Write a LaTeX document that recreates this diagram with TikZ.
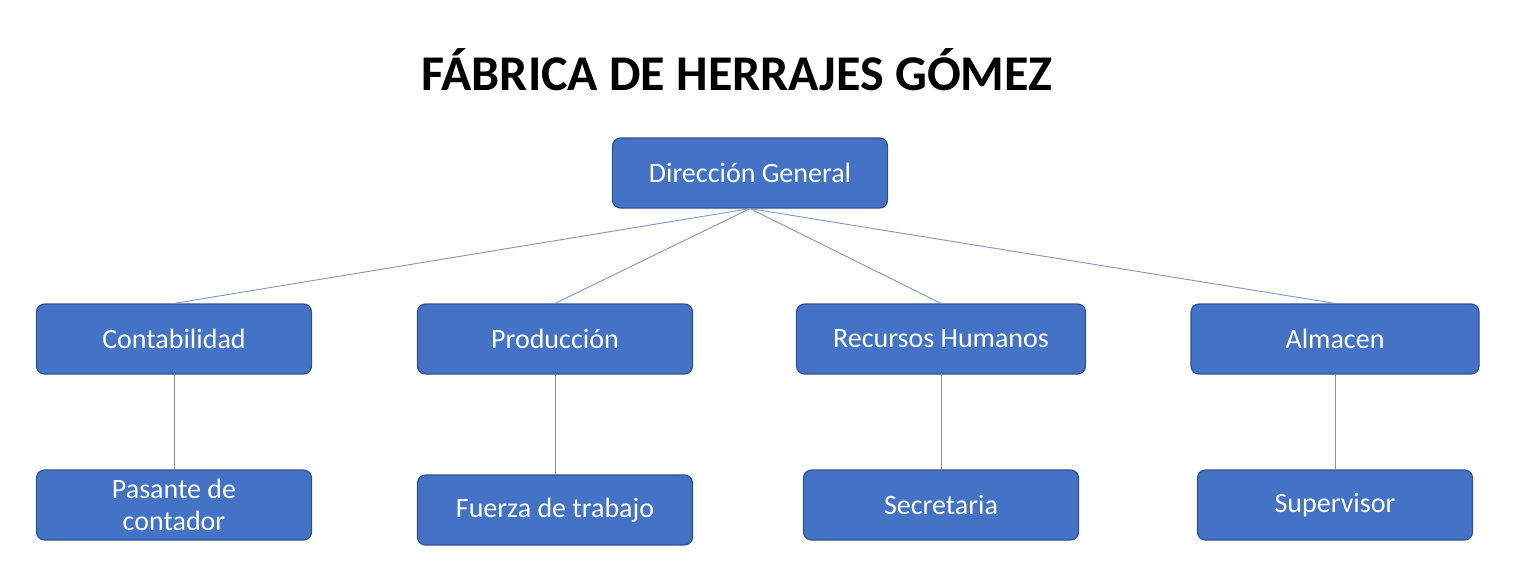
\documentclass[tikz,border=0pt]{standalone}
\usepackage{fontspec}
\setmainfont{Carlito}
\definecolor{boxfill}{HTML}{4472C4}
\definecolor{boxline}{HTML}{2F528F}
\definecolor{conn}{HTML}{7F95C0}
\begin{document}
\begin{tikzpicture}[x=1pt,y=-1pt,
  box/.style={draw=boxline,line width=1.2pt,fill=boxfill,rounded corners=8pt,text=white,
    minimum width=275pt,minimum height=70pt,align=center,font=\fontsize{28}{32}\selectfont},
  link/.style={draw=conn,line width=0.9pt}]
\useasboundingbox (0,0) rectangle (1536,579);
\node[font=\fontsize{50}{56}\selectfont\bfseries] (title) at (737,70) {FÁBRICA DE HERRAJES GÓMEZ};
\node[box] (dg) at (750,173) {Dirección General};
\node[box] (c) at (174,339) {Contabilidad};
\node[box] (p) at (555,339) {Producción};
\node[box,minimum width=289pt] (r) at (941,339) {Recursos Humanos};
\node[box,minimum width=288pt] (a) at (1335,339) {Almacen};
\node[box] (c2) at (174,505) {Pasante de\\contador};
\node[box] (p2) at (555,510) {Fuerza de trabajo};
\node[box] (r2) at (941,505) {Secretaria};
\node[box] (a2) at (1335,505) {Supervisor};
\draw[link] (dg.south) -- (c.north);
\draw[link] (dg.south) -- (p.north);
\draw[link] (dg.south) -- (r.north);
\draw[link] (dg.south) -- (a.north);
\draw[link] (c) -- (c2);
\draw[link] (p) -- (p2);
\draw[link] (r) -- (r2);
\draw[link] (a) -- (a2);
\end{tikzpicture}
\end{document}
